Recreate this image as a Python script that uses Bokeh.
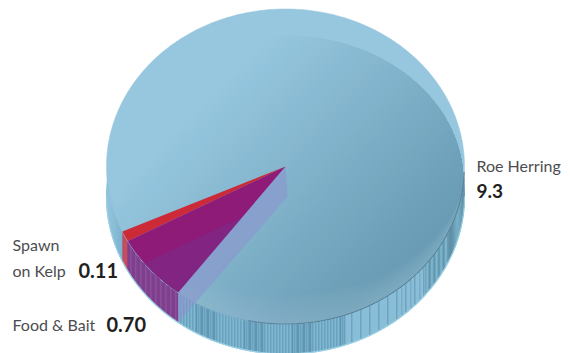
import numpy as np
from bokeh.plotting import figure
from bokeh.models import Range1d
from bokeh.core.properties import value
from bokeh.embed import file_html
from bokeh.resources import INLINE

# Catch by sector
categories = ["Roe Herring", "Spawn on Kelp", "Food & Bait"]
catch_values = [9.3, 0.11, 0.70]
value_labels = ["9.3", "0.11", "0.70"]

# Pie geometry in screen units
CX, CY, RX, RY, DEPTH = 285.0, 166.0, 179.0, 157.5, 30.0
START_DEG = 36.8  # clockwise from straight down

total = sum(catch_values)
food_span = 360 * catch_values[2] / total
spawn_span = 360 * catch_values[1] / total
a_food_end = START_DEG + food_span
a_spawn_end = a_food_end + spawn_span


def rim(a_deg, dy=0.0):
    a = np.radians(a_deg)
    return CX - RX * np.sin(a), CY + RY * np.cos(a) + dy


def sector(a0, a1, dy=0.0, n=40):
    aa = np.linspace(a0, a1, n)
    xs, ys = rim(aa, dy)
    return np.r_[CX, xs], np.r_[CY + dy, ys]


def clip_half_plane(xs, ys, nx, ny, d):
    """Keep the part of a polygon where nx*x + ny*y >= d."""
    out_x, out_y = [], []
    n = len(xs)
    for i in range(n):
        x0, y0, x1, y1 = xs[i], ys[i], xs[(i + 1) % n], ys[(i + 1) % n]
        s0, s1 = nx * x0 + ny * y0 - d, nx * x1 + ny * y1 - d
        if s0 >= 0:
            out_x.append(x0)
            out_y.append(y0)
        if s0 * s1 < 0:
            t = s0 / (s0 - s1)
            out_x.append(x0 + t * (x1 - x0))
            out_y.append(y0 + t * (y1 - y0))
    return np.array(out_x), np.array(out_y)


def mix(c0, c1, t):
    t = float(np.clip(t, 0, 1))
    r = [round(a + (b - a) * t) for a, b in zip(c0, c1)]
    return "#%02x%02x%02x" % tuple(r)


def outer_lower_y(x, dy=0.0):
    u = np.clip((x - CX) / RX, -1, 1)
    return CY + RY * np.sqrt(1 - u * u) + dy


p = figure(width=570, height=353, output_backend="svg", toolbar_location=None,
           x_range=Range1d(0, 570), y_range=Range1d(353, 0), min_border=0,
           outline_line_color=None, background_fill_color="white")
p.axis.visible = False
p.grid.visible = False

# Side wall: body, then fine vertical stripes
tt = np.linspace(0, 2 * np.pi, 360, endpoint=False)
p.patch(CX + RX * np.cos(tt), CY + DEPTH + RY * np.sin(tt), color="#8ac3db", line_width=1)

x_spawn_l = rim(a_spawn_end)[0]
x_food_l = rim(a_food_end)[0]
x_food_r = rim(START_DEG)[0]
sx, y0s, y1s, sc = [], [], [], []
for xi in np.arange(int(CX - RX) + 1.5, int(CX + RX) + 0.5, 1.0):
    top = outer_lower_y(xi)
    n = int(xi)
    if xi < x_spawn_l:
        col = mix((150, 198, 222), (122, 174, 200), (xi - 107) / 15)
    elif xi < x_food_l:
        col = "#d92b38" if xi > x_spawn_l + 1 else "#b92a45"
    elif xi < x_food_r:
        col = "#8f3a8c" if n % 5 == 0 else "#7d1a78"
    elif xi < 345:
        # dense two-tone stripes that drift in and out of phase
        on = n % 3 == 0 or (n % 2 == 0 and np.sin(xi * 0.13) > 0.2)
        col = "#578aa5" if on else "#7db6cf"
    elif xi < 425:
        if n % 9 == 0:
            col = "#5f8aa2"
        elif n % 9 == 5 and xi > 398:
            col = "#6c9ab3"
        else:
            col = "#88bdd6"
    elif xi < 449:
        col = mix((128, 184, 208), (84, 132, 156), 0.5 + 0.5 * np.sin(xi * 1.35))
    else:
        col = mix((112, 166, 190), (84, 128, 150), 0.5 + 0.5 * np.sin((xi - 449) * 0.45 + 1))
    sx.append(xi)
    y0s.append(top - 0.5)
    y1s.append(outer_lower_y(xi, DEPTH) - 0.8)
    sc.append(col)
p.segment(x0=sx, y0=y0s, x1=sx, y1=y1s, color=sc, line_width=1.05)

# Pale outline along the wall's lower edge
lower = np.linspace(0, np.pi, 200)
p.line(CX + RX * np.cos(lower), CY + DEPTH + RY * np.sin(lower),
       color="#9dd0e6", line_width=1.2, line_alpha=0.9)

# Top face: pale base disc
p.patch(CX + RX * np.cos(tt), CY + RY * np.sin(tt), color="#96c7df", line_width=0.5)

# Top face: inner disc with a diagonal shade, painted band over band
ix = 285 + 178 * np.cos(tt)
iy = 182 + 147 * np.sin(tt)
iy = np.minimum(iy, outer_lower_y(ix))
gx0, gy0, gx1, gy1 = 225.0, 75.0, 405.0, 250.0
dx, dy = gx1 - gx0, gy1 - gy0
ln = np.hypot(dx, dy)
nx, ny = dx / ln, dy / ln
s0 = nx * gx0 + ny * gy0
N_BANDS = 48
p.patch(ix, iy, color="#96c7df", line_width=0)
for i in range(N_BANDS):
    f = (i + 1) / N_BANDS
    bx, by = clip_half_plane(ix, iy, nx, ny, s0 + f * ln)
    if len(bx) > 2:
        p.patch(bx, by, color=mix((150, 199, 223), (106, 156, 181), f), line_width=0)

# Soft lighter band hugging the front edge of the top face
half = np.linspace(0, np.pi, 120)
for k in range(1, 9):
    w = 3.6 * k
    ox = CX + RX * np.cos(half)
    oy = CY + RY * np.sin(half)
    inner_y = CY + (RY - w) * np.sin(half)
    p.patch(np.r_[ox, ox[::-1]], np.r_[oy, inner_y[::-1]], color="#a6cdd8", alpha=0.055, line_width=0)

# Dark seam between top face and wall on the right
seam = np.radians(np.linspace(-12, 88, 150))
p.line(CX + RX * np.sin(seam), CY + RY * np.cos(seam),
       color="#4c7086", line_width=0.9, line_alpha=0.75)

# Spawn on Kelp and Food & Bait sectors on the top face
sp_x, sp_y = sector(a_food_end, a_spawn_end)
p.patch(sp_x, sp_y, color="#cc2a36", line_width=0)
fd_x, fd_y = sector(START_DEG, a_food_end)
p.patch(fd_x, fd_y, color="#8e1b78", line_width=0)

# Lower slice seen through the purple sector
ex, ey = rim(a_food_end, DEPTH)
lx0, ly0 = CX, CY + DEPTH
nlx, nly = -(ey - ly0), (ex - lx0)
norm = np.hypot(nlx, nly)
nlx, nly = nlx / norm, nly / norm
if nlx * CX + nly * (CY + 300) < nlx * lx0 + nly * ly0:
    nlx, nly = -nlx, -nly
ox_, oy_ = clip_half_plane(fd_x, fd_y, nlx, nly, nlx * lx0 + nly * ly0)
p.patch(ox_, oy_, color="#6e3a96", alpha=0.35, line_width=0)

# Translucent cut face of the sector edge
rx_top, ry_top = rim(START_DEG)
rx_bot, ry_bot = rim(START_DEG, DEPTH)
p.patch([CX, CX + 2, rx_bot, rx_top], [CY, CY + DEPTH, ry_bot, ry_top],
        color="#8a94cd", alpha=0.62, line_width=0)

# Labels
FONT = value("Lato")
light = dict(text_font=FONT, text_color="#4d4d4f", text_baseline="alphabetic", text_font_size="16px")
bold = dict(text_font=FONT, text_color="#231f20", text_baseline="alphabetic",
            text_font_style="bold")
p.text([476], [165], text=[categories[0]], **light)
p.text([476], [190], text=[value_labels[0]], text_font_size="19px", **bold)
spawn_words = categories[1].split(" ", 1)
p.text([12], [244], text=[spawn_words[0]], **light)
p.text([12], [270], text=[spawn_words[1]], **light)
p.text([78], [270], text=[value_labels[1]], text_font_size="20px", **bold)
p.text([12], [324], text=[categories[2]], **light)
p.text([106], [324], text=[value_labels[2]], text_font_size="20px", **bold)

open("out.html", "w").write(file_html(p, INLINE))
